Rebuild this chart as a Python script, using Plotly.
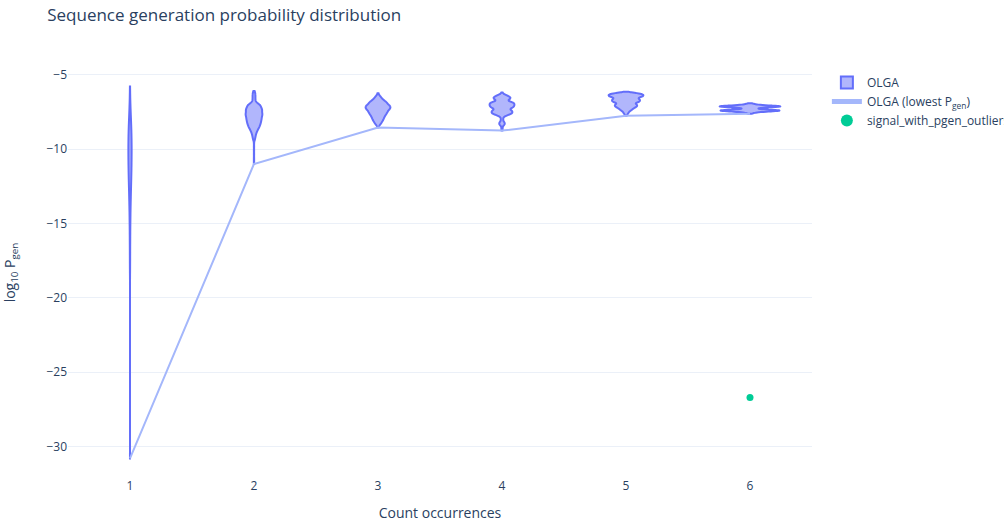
import plotly.graph_objects as go

# Count occurrences shown on the x axis
counts = [1, 2, 3, 4, 5, 6]

# log10 Pgen values observed for each count, with how often each value occurs
pgen_c1 = [-5.8, -6.3, -6.8, -7.3, -7.8, -8.3, -8.8, -9.3, -9.8, -10.3, -10.8, -11.3, -11.8,
           -12.3, -12.8, -13.3, -13.8, -14.3, -14.8, -15.3, -15.8, -16.3, -16.8, -17.3, -17.8,
           -18.3, -30.8]
freq_c1 = [1, 2, 4, 7, 11, 15, 18, 20, 21, 21, 20, 19, 17,
           15, 12, 10, 8, 6, 5, 4, 3, 3, 2, 2, 2,
           1, 1]

pgen_c2 = [-6.1, -6.2, -6.3, -6.4, -6.5, -6.6, -6.7, -6.8, -6.9, -7.0, -7.1, -7.2, -7.3,
           -7.4, -7.5, -7.6, -7.7, -7.8, -7.9, -8.0, -8.1, -8.2, -8.3, -8.4, -8.5, -8.6,
           -8.7, -8.8, -8.9, -9.0, -9.1, -9.2, -9.3, -9.4, -9.6, -9.85, -10.1, -10.35,
           -10.6, -10.8, -11.0]
freq_c2 = [2, 4, 5, 5, 5, 5, 5, 6, 10, 21, 24, 25, 28,
           30, 27, 30, 30, 28, 27, 27, 25, 25, 23, 21, 20, 16,
           14, 11, 9, 7, 6, 5, 4, 3, 1, 1, 1, 1,
           1, 1, 1]

pgen_c3 = [-6.24, -6.31, -6.38, -6.45, -6.52, -6.59, -6.66, -6.73, -6.80, -6.87, -6.94, -7.01,
           -7.08, -7.15, -7.22, -7.29, -7.36, -7.43, -7.50, -7.57, -7.64, -7.71, -7.78, -7.85,
           -7.92, -7.99, -8.06, -8.13, -8.20, -8.27, -8.34, -8.41, -8.48, -8.55]
freq_c3 = [1, 1, 2, 4, 5, 6, 8, 10, 12, 15, 14, 17,
           19, 20, 20, 19, 18, 15, 16, 14, 13, 13, 10, 11,
           9, 9, 8, 7, 6, 5, 4, 2, 1, 1]

pgen_c4 = [-6.20, -6.28, -6.36, -6.44, -6.52, -6.60, -6.68, -6.76, -6.84, -6.92, -7.00, -7.08,
           -7.16, -7.24, -7.32, -7.40, -7.48, -7.56, -7.64, -7.72, -7.80, -7.88, -7.96, -8.04,
           -8.12, -8.20, -8.28, -8.36, -8.44, -8.52, -8.60, -8.68, -8.76]
freq_c4 = [1, 2, 6, 11, 14, 14, 11, 8, 17, 20, 20, 20,
           19, 16, 11, 16, 17, 17, 15, 9, 4, 2, 2, 2,
           2, 4, 5, 4, 2, 1, 1, 1, 1]

pgen_c5 = [-6.14, -6.20, -6.26, -6.32, -6.38, -6.44, -6.50, -6.56, -6.62, -6.68, -6.74, -6.80,
           -6.86, -6.92, -6.98, -7.04, -7.10, -7.16, -7.22, -7.28, -7.34, -7.40, -7.46, -7.52,
           -7.58, -7.64, -7.70, -7.76]
freq_c5 = [1, 6, 17, 20, 20, 20, 18, 11, 15, 16, 16, 16,
           14, 8, 12, 13, 13, 12, 10, 8, 7, 6, 4, 3,
           3, 2, 1, 1]

pgen_c6 = [-6.92, -6.97, -7.02, -7.07, -7.12, -7.17, -7.22, -7.27, -7.32, -7.37, -7.42, -7.47,
           -7.52, -7.57, -7.62]
freq_c6 = [1, 2, 4, 9, 20, 15, 5, 3, 5, 13, 20, 10,
           4, 2, 1]

# Signal sequence flagged as a Pgen outlier
outlier_count = [6]
outlier_pgen = [-26.7]

pgen_by_count = [pgen_c1, pgen_c2, pgen_c3, pgen_c4, pgen_c5, pgen_c6]
freq_by_count = [freq_c1, freq_c2, freq_c3, freq_c4, freq_c5, freq_c6]

# Per-violin drawing settings
violin_widths = [0.026, 0.135, 0.2, 0.2, 0.28, 0.49]
violin_bandwidths = [0.45, 0.09, 0.07, 0.065, 0.06, 0.04]

VIOLIN_COLOR = "#636efa"
LINE_COLOR = "#a4b7fb"
OUTLIER_COLOR = "#00cc96"

fig = go.Figure()

lowest = []
for i, c in enumerate(counts):
    samples = []
    for v, f in zip(pgen_by_count[i], freq_by_count[i]):
        samples.extend([v] * f)
    lowest.append(min(samples))
    fig.add_trace(go.Violin(
        x=[c] * len(samples),
        y=samples,
        name="OLGA",
        legendgroup="OLGA",
        showlegend=(i == 0),
        line=dict(color=VIOLIN_COLOR, width=2),
        fillcolor="rgba(99,110,250,0.5)",
        points=False,
        spanmode="hard",
        bandwidth=violin_bandwidths[i],
        width=violin_widths[i],
    ))

fig.add_trace(go.Scatter(
    x=counts,
    y=lowest,
    mode="lines",
    name="OLGA (lowest P<sub>gen</sub>)",
    line=dict(color=LINE_COLOR, width=2),
))

fig.add_trace(go.Scatter(
    x=outlier_count,
    y=outlier_pgen,
    mode="markers",
    name="signal_with_pgen_outliers",
    marker=dict(color=OUTLIER_COLOR, size=7),
))

fig.update_layout(
    template="plotly_white",
    width=1004,
    height=522,
    title=dict(
        text="Sequence generation probability distribution",
        x=0.047, xanchor="left",
        y=1 - 15 / 522, yanchor="middle",
        font=dict(size=17),
    ),
    margin=dict(l=68, r=192, t=68, b=45, autoexpand=False),
    violinmode="overlay",
    xaxis=dict(
        title=dict(text="Count occurrences"),
        tickvals=counts,
        range=[0.5, 6.5],
        showgrid=False,
        zeroline=False,
    ),
    yaxis=dict(
        title=dict(text="log<sub>10</sub> P<sub>gen</sub>", standoff=33),
        range=[-32.05, -4.55],
        dtick=5,
        zeroline=False,
    ),
    legend=dict(tracegroupgap=0, itemsizing="constant"),
)

fig.write_html("out.html")
